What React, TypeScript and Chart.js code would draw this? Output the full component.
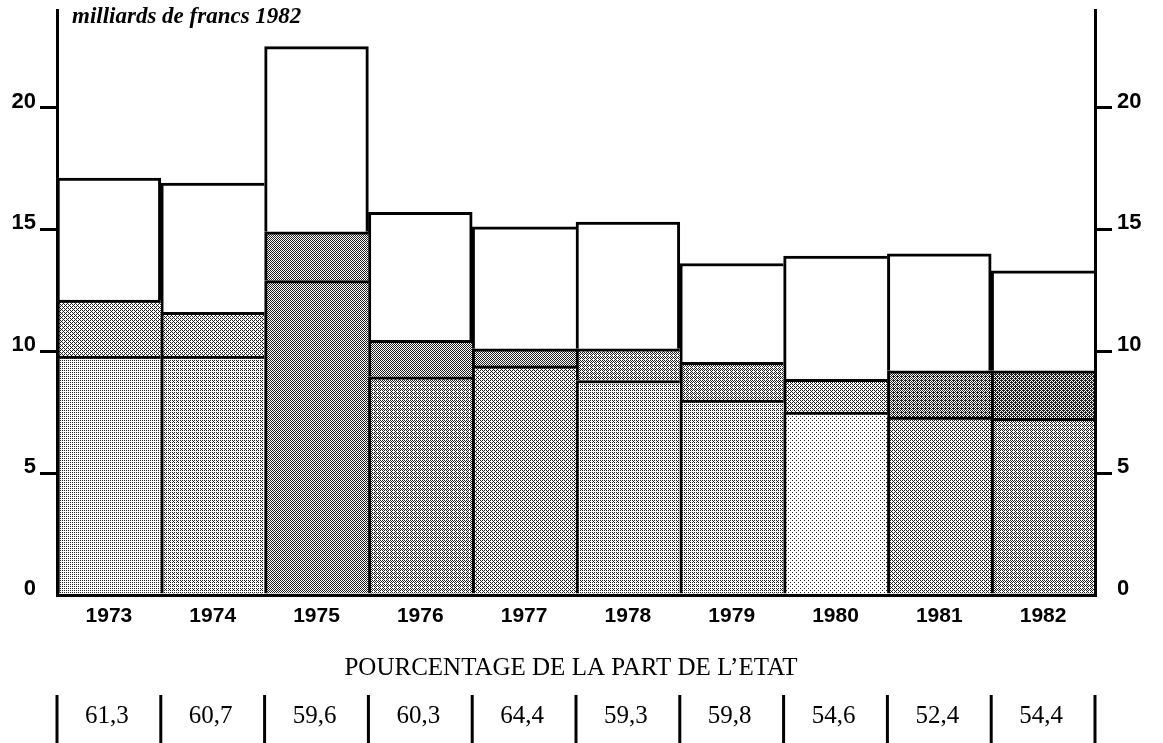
import React, { useEffect, useRef } from "react";
import { Chart, registerables } from "chart.js";

Chart.register(...registerables);

// ---- data ----
const years = ["1973", "1974", "1975", "1976", "1977", "1978", "1979", "1980", "1981", "1982"];
const baseValues = [9.8, 9.8, 12.9, 8.95, 9.4, 8.8, 8.0, 7.5, 7.3, 7.25];
const middleValues = [2.3, 1.8, 2.0, 1.5, 0.7, 1.3, 1.55, 1.35, 1.9, 1.95];
const topValues = [5.0, 5.3, 7.6, 5.25, 5.0, 5.2, 4.05, 5.05, 4.8, 4.1];
const stateShare = ["61,3", "60,7", "59,6", "60,3", "64,4", "59,3", "59,8", "54,6", "52,4", "54,4"];
const yTicks = [0, 5, 10, 15, 20];
const unitLabel = "milliards de francs 1982";
const shareTitle = "POURCENTAGE DE LA PART DE L\u2019ETAT";

// ---- styles (halftone darkness per bar) ----
const baseShade = [0.27, 0.32, 0.47, 0.42, 0.4, 0.32, 0.3, 0.15, 0.37, 0.45];
const middleShade = [0.4, 0.35, 0.5, 0.5, 0.47, 0.45, 0.45, 0.4, 0.57, 0.6];

const BAYER = [
  [0, 8, 2, 10],
  [12, 4, 14, 6],
  [3, 11, 1, 9],
  [15, 7, 13, 5],
];

function halftone(target: CanvasRenderingContext2D, d: number): CanvasPattern | string {
  const c = document.createElement("canvas");
  c.width = 4;
  c.height = 4;
  const g = c.getContext("2d");
  if (!g) return "#ccc";
  g.fillStyle = "#ffffff";
  g.fillRect(0, 0, 4, 4);
  g.fillStyle = "#222222";
  for (let y = 0; y < 4; y++) {
    for (let x = 0; x < 4; x++) {
      if ((BAYER[y][x] + 0.5) / 16 < d) g.fillRect(x, y, 1, 1);
    }
  }
  return target.createPattern(c, "repeat") || "#ccc";
}

const SANS = '"Liberation Sans", Arial, Helvetica, sans-serif';
const SERIF = '"Liberation Serif", "Times New Roman", Times, serif';

export default function App() {
  const canvasRef = useRef<HTMLCanvasElement | null>(null);

  useEffect(() => {
    const canvas = canvasRef.current;
    if (!canvas) return;
    const ctx2d = canvas.getContext("2d");
    if (!ctx2d) return;

    const basePatterns = baseShade.map((d) => halftone(ctx2d, d));
    const middlePatterns = middleShade.map((d) => halftone(ctx2d, d));
    const totals = years.map((_, i) => baseValues[i] + middleValues[i] + topValues[i]);
    const n = years.length;

    const borderFn = (ctx: any) => {
      const i = ctx.dataIndex;
      const ds = ctx.datasetIndex;
      const right = ds === 2 && i < n - 1 && totals[i] > totals[i + 1] ? 3 : 0;
      return { top: 3, bottom: 0, left: 3, right };
    };

    const overlay = {
      id: "overlay",
      afterDraw(chart: any) {
        const { ctx, chartArea } = chart;
        const x = chart.scales.x;
        ctx.save();
        ctx.fillStyle = "#000";
        ctx.strokeStyle = "#000";
        // unit label
        ctx.font = `italic bold 23px ${SERIF}`;
        ctx.textAlign = "left";
        ctx.textBaseline = "alphabetic";
        ctx.fillText(unitLabel, chartArea.left + 15, 23);
        // share title
        ctx.font = `25px ${SERIF}`;
        ctx.textAlign = "center";
        ctx.fillText(shareTitle, 571, chartArea.bottom + 80);
        // separators
        const edges: number[] = [];
        for (let i = 0; i <= n; i++) {
          if (i === 0) edges.push(chartArea.left);
          else if (i === n) edges.push(chartArea.right);
          else edges.push((x.getPixelForValue(i - 1) + x.getPixelForValue(i)) / 2);
        }
        ctx.lineWidth = 3;
        edges.forEach((e) => {
          ctx.beginPath();
          ctx.moveTo(e, chartArea.bottom + 100);
          ctx.lineTo(e, chartArea.bottom + 150);
          ctx.stroke();
        });
        ctx.font = `25px ${SERIF}`;
        stateShare.forEach((v, i) => {
          ctx.fillText(v, (edges[i] + edges[i + 1]) / 2 - 2, chartArea.bottom + 128);
        });
        ctx.restore();
      },
    };

    const yAxisCommon = {
      stacked: true,
      min: 0,
      max: 24,
      afterBuildTicks: (s: any) => {
        s.ticks = yTicks.map((v) => ({ value: v }));
      },
      ticks: {
        color: "#000",
        font: { family: SANS, size: 22, weight: "bold" },
        labelOffset: -6,
        padding: 4,
      },
      grid: {
        drawOnChartArea: false,
        drawTicks: true,
        tickLength: 17,
        lineWidth: 3,
        color: (c: any) => (c.tick && c.tick.value === 0 ? "rgba(0,0,0,0)" : "#000"),
      },
      border: { display: true, width: 3, color: "#000", z: 1 },
    };

    const chart = new Chart(canvas, {
      type: "bar",
      data: {
        labels: years,
        datasets: [
          { label: "base", data: baseValues, backgroundColor: basePatterns as any },
          { label: "middle", data: middleValues, backgroundColor: middlePatterns as any },
          { label: "top", data: topValues, backgroundColor: "#ffffff" },
        ],
      },
      options: {
        responsive: false,
        animation: false,
        layout: { padding: { top: 10, left: 0, right: 0, bottom: 0 } },
        plugins: {
          legend: { display: false },
          tooltip: { enabled: false },
        },
        datasets: {
          bar: {
            barPercentage: 1,
            categoryPercentage: 1,
            borderColor: "#000",
            borderWidth: borderFn as any,
            borderSkipped: false,
          },
        },
        scales: {
          x: {
            stacked: true,
            grid: { display: false, drawTicks: false },
            border: { display: true, width: 3, color: "#000", z: 1 },
            ticks: {
              color: "#000",
              font: { family: SANS, size: 21, weight: "bold" },
              padding: 9,
              maxRotation: 0,
            },
            afterFit: (s: any) => {
              s.height = 148;
              s.paddingLeft = 0;
              s.paddingRight = 0;
            },
          },
          y: {
            ...yAxisCommon,
            position: "left",
            afterFit: (s: any) => {
              s.width = 57;
              s.paddingTop = 0;
              s.paddingBottom = 0;
            },
          } as any,
          y2: {
            ...yAxisCommon,
            position: "right",
            ticks: { ...yAxisCommon.ticks, padding: 5 },
            afterFit: (s: any) => {
              s.width = 68;
              s.paddingTop = 0;
              s.paddingBottom = 0;
            },
          } as any,
        },
      },
      plugins: [overlay],
    });

    return () => chart.destroy();
  }, []);

  return (
    <div
      style={{
        position: "absolute",
        left: 0,
        top: 0,
        width: 1163,
        height: 743,
        background: "#ffffff",
      }}
    >
      <canvas ref={canvasRef} width={1163} height={743} style={{ display: "block" }} />
    </div>
  );
}
